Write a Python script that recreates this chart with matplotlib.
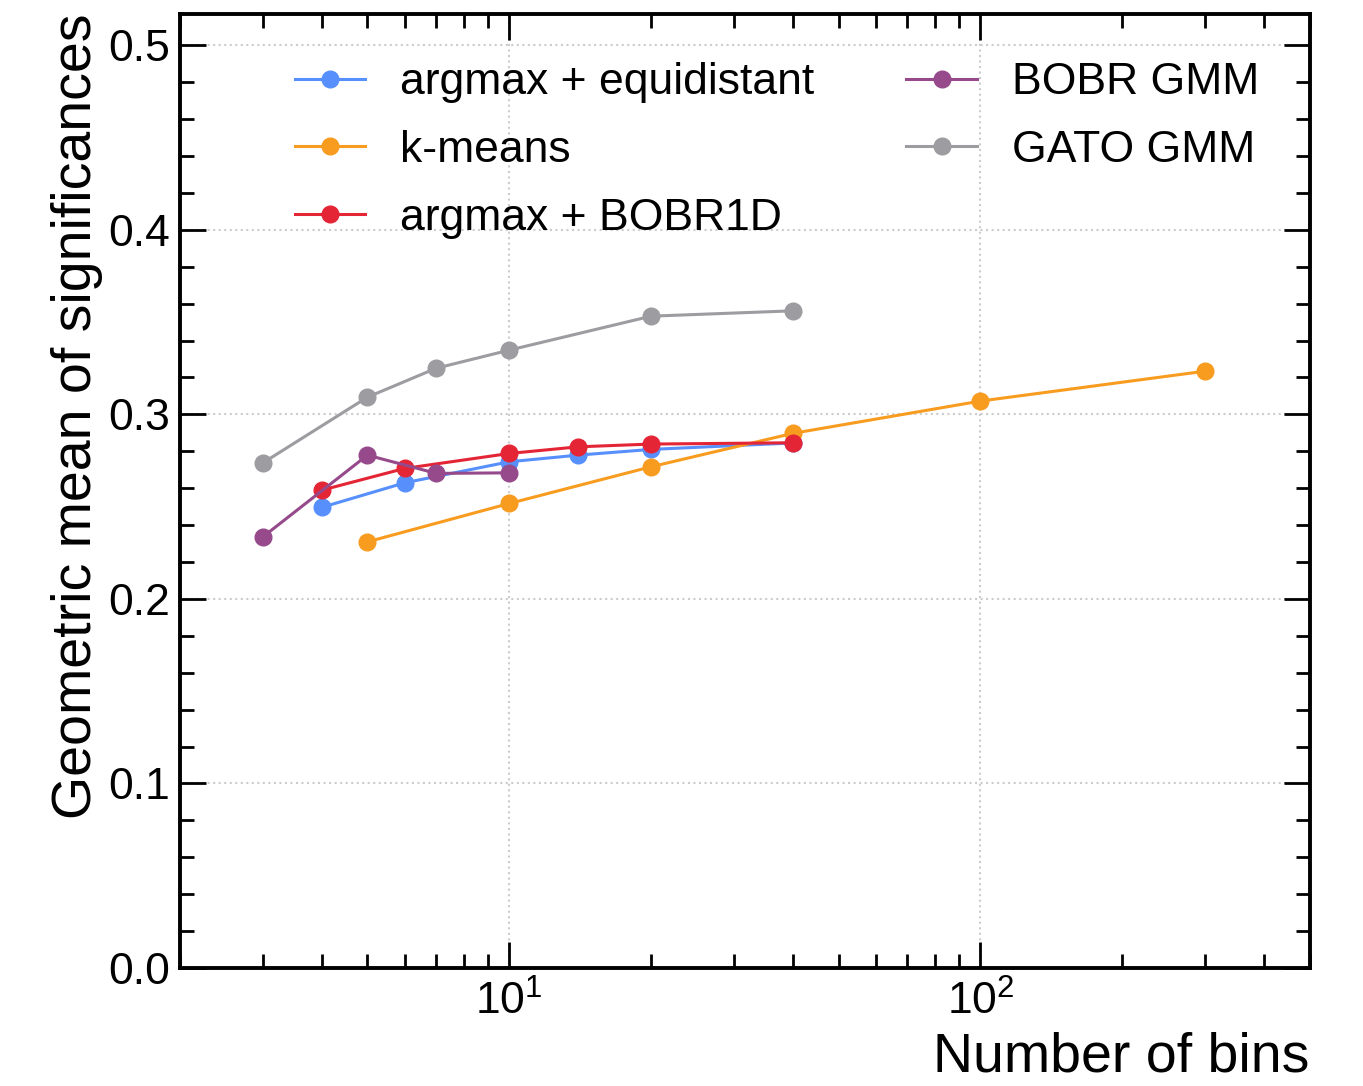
import matplotlib
matplotlib.use('Agg')
import matplotlib.pyplot as plt
import numpy as np
from matplotlib.ticker import MultipleLocator, LogLocator, NullFormatter

plt.rcParams['font.family'] = ['Liberation Sans', 'DejaVu Sans']
plt.rcParams['mathtext.fontset'] = 'custom'
plt.rcParams['mathtext.rm'] = 'Liberation Sans'
plt.rcParams['mathtext.it'] = 'Liberation Sans:italic'
plt.rcParams['mathtext.default'] = 'regular'

# data
x_equi = [4, 6, 10, 14, 20, 40]
y_equi = [0.2496, 0.2629, 0.2743, 0.2779, 0.2810, 0.2845]

x_kmeans = [5, 10, 20, 40, 100, 300]
y_kmeans = [0.2309, 0.2517, 0.2716, 0.2897, 0.3072, 0.3234]

x_bobr1d = [4, 6, 10, 14, 20, 40]
y_bobr1d = [0.2589, 0.2707, 0.2788, 0.2824, 0.2839, 0.2846]

x_bobrgmm = [3, 5, 7, 10]
y_bobrgmm = [0.2336, 0.2779, 0.2680, 0.2683]

x_gato = [3, 5, 7, 10, 20, 40]
y_gato = [0.2737, 0.3093, 0.3250, 0.3348, 0.3532, 0.3561]

colors = ['#5790fc', '#f89c20', '#e42536', '#964a8b', '#9c9ca1']

fig = plt.figure(figsize=(13.63, 10.86), dpi=100)
ax = fig.add_axes([0.132, 0.1087, 0.829, 0.8785])

kw = dict(marker='o', markersize=12, linewidth=2.2)
ax.plot(x_equi, y_equi, color=colors[0], label='argmax + equidistant', **kw)
ax.plot(x_kmeans, y_kmeans, color=colors[1], label='k-means', **kw)
ax.plot(x_bobr1d, y_bobr1d, color=colors[2], label='argmax + BOBR1D', **kw)
ax.plot(x_bobrgmm, y_bobrgmm, color=colors[3], label='BOBR GMM', **kw)
ax.plot(x_gato, y_gato, color=colors[4], label='GATO GMM', **kw)

ax.set_xscale('log')
ax.set_xlim(2, 500)
ax.set_ylim(0, 0.517)
ax.yaxis.set_major_locator(MultipleLocator(0.1))
ax.yaxis.set_minor_locator(MultipleLocator(0.02))
ax.xaxis.set_minor_locator(LogLocator(base=10, subs=np.arange(2, 10)))
ax.xaxis.set_minor_formatter(NullFormatter())
ax.yaxis.set_major_formatter(matplotlib.ticker.FormatStrFormatter('%.1f'))

ax.tick_params(which='both', direction='in', top=True, right=True, labelsize=32, pad=7)
ax.tick_params(axis='x', which='both', pad=9)
ax.tick_params(which='major', length=19, width=2)
ax.tick_params(which='minor', length=10, width=2)
for s in ax.spines.values():
    s.set_linewidth(2.8)

ax.grid(which='major', linestyle=':', color='#cccccc', linewidth=1.5)

ax.set_xlabel('Number of bins', fontsize=40, loc='right', labelpad=6)
ax.set_ylabel('Geometric mean of significances', fontsize=40, loc='top')

ax.legend(ncol=2, frameon=False, fontsize=32, loc='upper left',
          bbox_to_anchor=(0.086, 0.968), borderaxespad=0,
          handlelength=1.58, handletextpad=0.79,
          columnspacing=2.07, labelspacing=0.6)

fig.savefig('out.png', dpi=100)
